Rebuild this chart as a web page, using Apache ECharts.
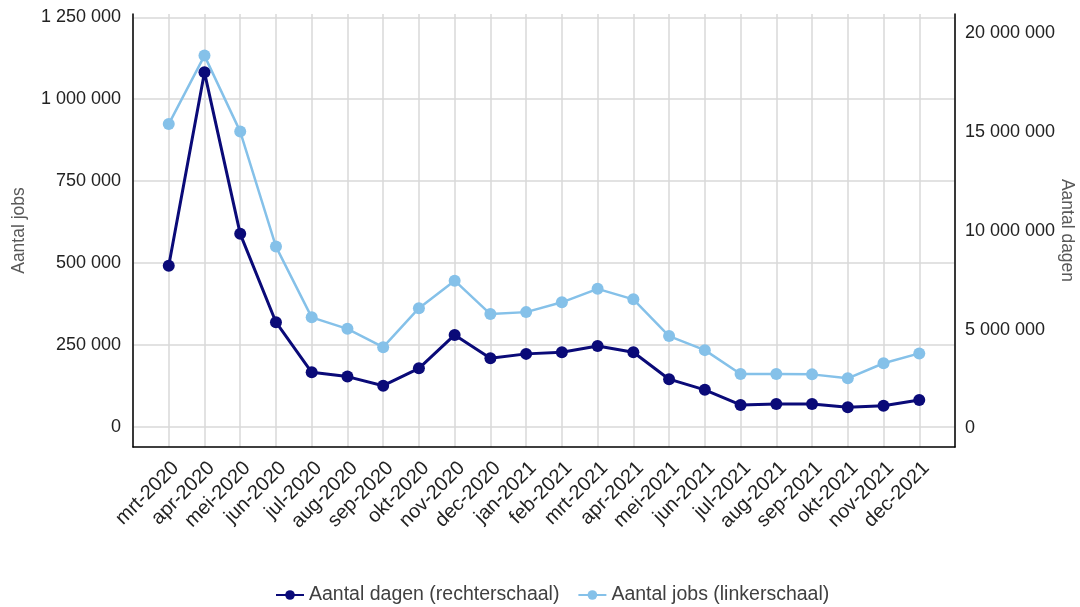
<!DOCTYPE html>
<html>
<head>
<meta charset="utf-8">
<script src="https://cdn.jsdelivr.net/npm/echarts@6/dist/echarts.min.js"></script>
<style>
  html, body { margin: 0; padding: 0; background: #ffffff; overflow: hidden; }
  #chart { width: 1080px; height: 607px; }
</style>
</head>
<body>
<div id="chart"></div>
<script>
const months = ['mrt-2020','apr-2020','mei-2020','jun-2020','jul-2020','aug-2020','sep-2020','okt-2020','nov-2020','dec-2020',
  'jan-2021','feb-2021','mrt-2021','apr-2021','mei-2021','jun-2021','jul-2021','aug-2021','sep-2021','okt-2021','nov-2021','dec-2021'];
const jobs = [924000,1133000,901000,550000,334000,299000,243000,362000,446000,344000,
  350000,380000,421000,389000,277000,234000,161000,161000,160000,148000,194000,224000];
const dagen = [8230000,18010000,9840000,5370000,2840000,2620000,2160000,3040000,4730000,3550000,
  3770000,3850000,4170000,3850000,2490000,1950000,1190000,1240000,1240000,1070000,1150000,1440000];
const leftTicks = [0,250000,500000,750000,1000000,1250000];
const rightTicks = [0,5000000,10000000,15000000,20000000];
const nameDagen = 'Aantal dagen (rechterschaal)';
const nameJobs = 'Aantal jobs (linkerschaal)';

const fmt = v => String(v).replace(/\B(?=(\d{3})+(?!\d))/g, ' ');
const xData = [''].concat(months, ['']);
const font = 'Liberation Sans, Arial, sans-serif';

const chart = echarts.init(document.getElementById('chart'));
chart.setOption({
  backgroundColor: '#ffffff',
  animation: false,
  textStyle: { fontFamily: font },
  grid: { left: 133, right: 125, top: 14, bottom: 160, containLabel: false, outerBoundsMode: 'none' },
  legend: {
    data: [nameDagen, nameJobs],
    top: 580,
    left: 270,
    itemWidth: 28,
    itemHeight: 12,
    itemGap: 18,
    textStyle: { fontSize: 19.5, color: '#404040', fontFamily: font }
  },
  xAxis: {
    type: 'category',
    data: xData,
    boundaryGap: false,
    axisLine: { show: true, onZero: false, lineStyle: { color: '#000000', width: 1.5 } },
    axisTick: { show: false },
    axisLabel: { interval: 0, rotate: 45, verticalAlign: 'top', fontSize: 20, color: '#222222', margin: 11, fontFamily: font },
    splitLine: { show: true, interval: 0, lineStyle: { color: '#d9d9d9', width: 1.5 } }
  },
  yAxis: [
    {
      type: 'value',
      position: 'left',
      min: -61700,
      max: 1260000,
      name: 'Aantal jobs',
      nameLocation: 'middle',
      nameGap: 105,
      nameMoveOverlap: false,
      nameTextStyle: { fontSize: 17.5, color: '#595959', fontFamily: font },
      axisLine: { show: true, onZero: false, lineStyle: { color: '#000000', width: 1.5 } },
      axisTick: { show: false, customValues: leftTicks },
      axisLabel: { customValues: leftTicks, formatter: fmt, fontSize: 18, color: '#222222', margin: 12, fontFamily: font },
      splitLine: { show: true, lineStyle: { color: '#d9d9d9', width: 1.5 } }
    },
    {
      type: 'value',
      position: 'right',
      min: -940000,
      max: 20960000,
      name: 'Aantal dagen',
      nameLocation: 'middle',
      nameRotate: -90,
      nameGap: 103,
      nameMoveOverlap: false,
      nameTextStyle: { fontSize: 17.5, color: '#595959', fontFamily: font },
      axisLine: { show: true, onZero: false, lineStyle: { color: '#000000', width: 1.5 } },
      axisTick: { show: false, customValues: rightTicks },
      axisLabel: { customValues: rightTicks, formatter: fmt, fontSize: 18, color: '#222222', margin: 10, fontFamily: font },
      splitLine: { show: false }
    }
  ],
  series: [
    {
      name: nameJobs,
      type: 'line',
      yAxisIndex: 0,
      data: months.map((m, i) => [m, jobs[i]]),
      symbol: 'circle',
      symbolSize: 12,
      color: '#85c1e9',
      lineStyle: { width: 2.5, color: '#85c1e9' },
      itemStyle: { color: '#85c1e9' },
      z: 2
    },
    {
      name: nameDagen,
      type: 'line',
      yAxisIndex: 1,
      data: months.map((m, i) => [m, dagen[i]]),
      symbol: 'circle',
      symbolSize: 12,
      color: '#0a0a78',
      lineStyle: { width: 3, color: '#0a0a78' },
      itemStyle: { color: '#0a0a78' },
      z: 3
    }
  ]
});
</script>
</body>
</html>
